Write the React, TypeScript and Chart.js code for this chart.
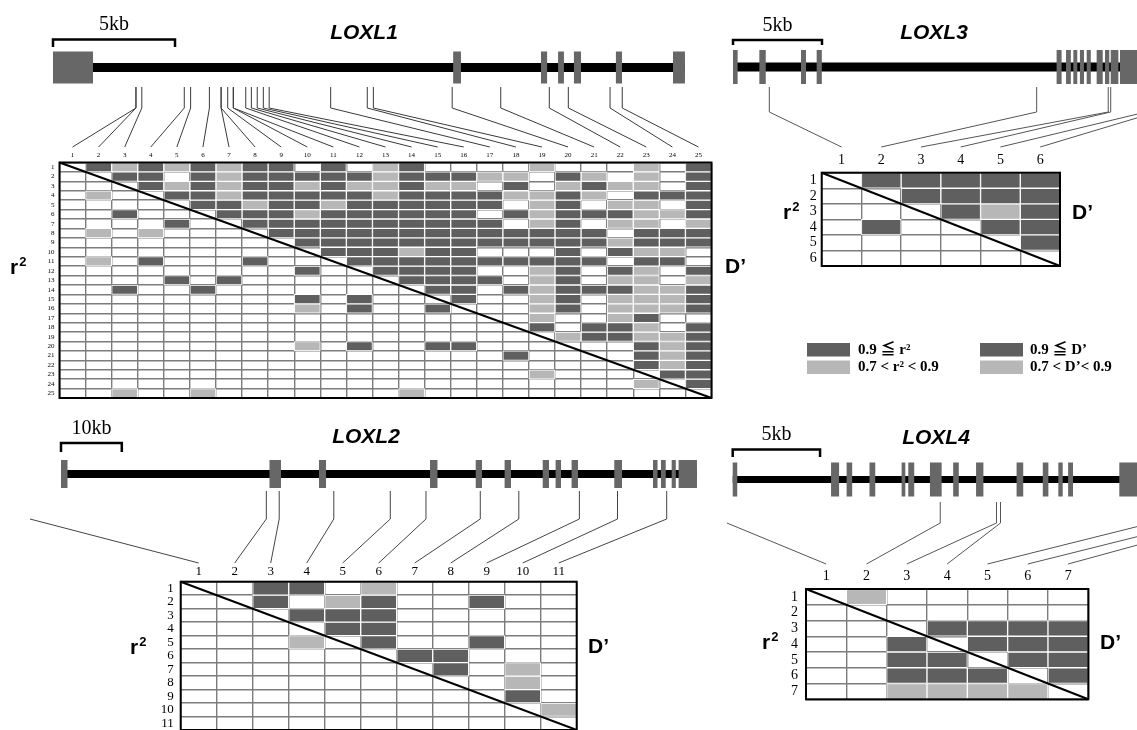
import React, { useEffect, useRef } from 'react';
import { Chart, registerables } from 'chart.js';

Chart.register(...registerables);

const W = 1137;
const H = 730;

// ---------------- DATA ----------------
// LD matrices: '.' = below 0.7, 'L' = 0.7-0.9, 'D' = >= 0.9
// upper triangle = D', lower triangle = r²

const LOXL1_SNPS = ['1', '2', '3', '4', '5', '6', '7', '8', '9', '10', '11', '12', '13', '14', '15', '16', '17', '18', '19', '20', '21', '22', '23', '24', '25'];
const LOXL1_LD = [
  '.DLDLDLDD.D.LD....L...L.D',
  '..DD.DLDDDDDLDDDLL.DL.L.D',
  '...DLDLDDLDLLDLL.D.LDLL.D',
  '.L..DDLDDDDDLDDDDLLDL.DDD',
  '.....DDLDDLDDDDDD.LD.LL.D',
  '..D...DDDLDDDDDD.DLDDDLLD',
  '....D..DDDDDDDDDD.LD.LL.L',
  '.L.L....DDDDDDDDDDDDD.DDD',
  '.........DDDDDDDDDDDDLDDD',
  '..........DDDLDD...D.DLL.',
  '.L.D...D...DDDDDDDDDD.DD.',
  '.........D..DDDD..LD.DL.D',
  '....D.D......DDDD.LD.LL.L',
  '..D..D........DD.DLDDDLLD',
  '.........D.D...D..LD.LLLD',
  '.........L.D..D...LD.LLLD',
  '..................L..LD..',
  '..................D.DDL.D',
  '...................LDDLLD',
  '.........L.D..DD......DLD',
  '.................D....DLD',
  '......................DLD',
  '..................L....DD',
  '......................L.D',
  '..L..L.......L...........',
];
const LOXL1_EXON_START = [0, 16.4, 20.0, 20.7, 21.35, 23.07, 25.41];
const LOXL1_EXON_END = [1.64, 16.72, 20.25, 20.94, 21.64, 23.32, 25.9];
const LOXL1_SNP_KB = [3.4, 3.4, 3.64, 5.38, 5.64, 6.41, 6.89, 6.89, 7.16, 7.39, 7.39, 7.9, 8.13, 8.37, 8.62, 8.86, 11.38, 12.88, 13.13, 16.36, 18.35, 20.34, 21.12, 22.83, 23.33];

const LOXL3_SNPS = ['1', '2', '3', '4', '5', '6'];
const LOXL3_LD = [
  '.DDDDD',
  '..DDDD',
  '...DLD',
  '.D..DD',
  '.....D',
  '......',
];
const LOXL3_EXON_START = [0, 1.48, 3.82, 4.7, 18.18, 18.71, 19.12, 19.49, 19.87, 20.43, 20.9, 21.22, 21.74];
const LOXL3_EXON_END = [0.26, 1.84, 4.1, 4.99, 18.46, 18.98, 19.34, 19.72, 20.1, 20.77, 21.14, 21.65, 23.5];
const LOXL3_SNP_KB = [2.04, 17.06, 21.08, 21.22, 23.2, 23.8];

const LOXL2_SNPS = ['1', '2', '3', '4', '5', '6', '7', '8', '9', '10', '11'];
const LOXL2_LD = [
  '..DD.L.....',
  '..D.LD..D..',
  '...DDD.....',
  '....DD.....',
  '...L.D..D..',
  '......DD...',
  '.......D.L.',
  '.........L.',
  '.........D.',
  '..........L',
  '...........',
];
const LOXL2_EXON_START = [0, 34.29, 42.43, 60.69, 68.21, 72.96, 79.23, 81.35, 83.98, 91.0, 97.37, 98.68, 100.44, 101.58];
const LOXL2_EXON_END = [1.07, 36.18, 43.59, 61.92, 69.24, 74.01, 80.26, 82.24, 85.03, 92.27, 98.11, 99.46, 101.12, 104.6];
const LOXL2_SNP_KB = [-5.1, 33.77, 35.89, 44.87, 54.16, 60.03, 68.96, 75.3, 85.26, 91.53, 99.62];

const LOXL4_SNPS = ['1', '2', '3', '4', '5', '6', '7'];
const LOXL4_LD = [
  '.L.....',
  '.......',
  '...DDDD',
  '..D.DDD',
  '..DD.DD',
  '..DDD.D',
  '..LLLL.',
];
const LOXL4_EXON_START = [0, 5.63, 6.52, 7.83, 9.67, 10.05, 11.29, 12.62, 13.93, 16.25, 17.75, 18.64, 19.2, 22.13];
const LOXL4_EXON_END = [0.26, 6.09, 6.84, 8.16, 9.88, 10.39, 11.96, 12.94, 14.35, 16.63, 18.07, 18.89, 19.48, 23.5];
const LOXL4_SNP_KB = [-0.33, 11.88, 15.1, 15.33, 23.98, 26.29, 27.78];

const LEGEND_R2 = ['0.9 ≦ r²', '0.7 < r² < 0.9'];
const LEGEND_D = ['0.9 ≦ D’', '0.7 < D’< 0.9'];

// ---------------- STYLE / LAYOUT ----------------
const DARK = '#5f5f5f';
const LIGHT = '#b7b7b7';
const EXON = '#676767';
const GRID = '#7c7c7c';
const CELL_COLORS: Record<string, string> = { '.': 'rgba(0,0,0,0)', L: LIGHT, D: DARK };
const SERIF = '"Liberation Serif", "DejaVu Serif", "Noto Sans CJK JP", serif';
const SANS = '"Liberation Sans", Arial, sans-serif';

type Layout = {
  m: [number, number, number, number];
  x0: number; ppk: number;
  gy: number; lineH: number; exonH: number;
  vTop: number; bend: number; endY: number;
  title: [number, number];
  bar: [number, number, number];
  r2: [number, number]; dp: [number, number];
  font: number; xPad: number; yPad: number;
  conn: string;
};

type Panel = {
  name: string; snps: string[]; ld: string[];
  exonStart: number[]; exonEnd: number[]; geneLength: number;
  snpKb: number[]; scaleKb: number; scaleLabel: string;
  layout: Layout; legend?: boolean;
};

const PANELS: Panel[] = [
  {
    name: 'LOXL1', snps: LOXL1_SNPS, ld: LOXL1_LD,
    exonStart: LOXL1_EXON_START, exonEnd: LOXL1_EXON_END, geneLength: 25.9,
    snpKb: LOXL1_SNP_KB, scaleKb: 5, scaleLabel: '5kb',
    layout: {
      m: [59.5, 162.5, 711.5, 398], x0: 53, ppk: 24.4,
      gy: 67.5, lineH: 9, exonH: 32, vTop: 87, bend: 108, endY: 147,
      title: [364, 33], bar: [39.5, 47, 25], r2: [10, 268], dp: [725, 267],
      font: 7, xPad: 3, yPad: 5, conn: '#3a3a3a',
    },
  },
  {
    name: 'LOXL3', snps: LOXL3_SNPS, ld: LOXL3_LD,
    exonStart: LOXL3_EXON_START, exonEnd: LOXL3_EXON_END, geneLength: 25,
    snpKb: LOXL3_SNP_KB, scaleKb: 5, scaleLabel: '5kb',
    layout: {
      m: [821.7, 172.7, 1060, 266], x0: 733, ppk: 17.8,
      gy: 67, lineH: 9, exonH: 34, vTop: 87, bend: 112, endY: 147,
      title: [934, 33], bar: [40, 45, 26], r2: [783, 213], dp: [1072, 213],
      font: 14, xPad: 4, yPad: 5, conn: '#555555',
    },
    legend: true,
  },
  {
    name: 'LOXL2', snps: LOXL2_SNPS, ld: LOXL2_LD,
    exonStart: LOXL2_EXON_START, exonEnd: LOXL2_EXON_END, geneLength: 104.6,
    snpKb: LOXL2_SNP_KB, scaleKb: 10, scaleLabel: '10kb',
    layout: {
      m: [180.7, 581.7, 576.7, 730], x0: 61, ppk: 6.08,
      gy: 474, lineH: 8, exonH: 28, vTop: 491, bend: 519, endY: 563,
      title: [366, 437], bar: [443, 452, 429], r2: [130, 648], dp: [588, 647],
      font: 13, xPad: 2, yPad: 7, conn: '#444444',
    },
  },
  {
    name: 'LOXL4', snps: LOXL4_SNPS, ld: LOXL4_LD,
    exonStart: LOXL4_EXON_START, exonEnd: LOXL4_EXON_END, geneLength: 23.5,
    snpKb: LOXL4_SNP_KB, scaleKb: 5, scaleLabel: '5kb',
    layout: {
      m: [806, 589, 1088.3, 699.3], x0: 732.7, ppk: 17.47,
      gy: 479.5, lineH: 7, exonH: 34, vTop: 502, bend: 523, endY: 564,
      title: [936, 438], bar: [449.5, 457, 435], r2: [762, 643], dp: [1100, 643],
      font: 14, xPad: 4, yPad: 8, conn: '#555555',
    },
  },
];

const XH = 30;
const YW = 36;

function drawR2(ctx: CanvasRenderingContext2D, x: number, y: number) {
  ctx.font = `bold 21px ${SANS}`;
  ctx.textAlign = 'left';
  ctx.textBaseline = 'middle';
  ctx.fillStyle = '#000';
  ctx.fillText('r', x, y);
  const w = ctx.measureText('r').width;
  ctx.font = `bold 13px ${SANS}`;
  ctx.fillText('2', x + w + 1, y - 6);
}

function zeroPad(s: any) {
  s.paddingTop = 0;
  s.paddingBottom = 0;
  s.paddingLeft = 0;
  s.paddingRight = 0;
}

function makeChart(canvas: HTMLCanvasElement, p: Panel) {
  const L = p.layout;
  const [ml, mt, mr, mb] = L.m;
  const n = p.snps.length;

  const datasets = p.ld.map((row, r) => ({
    data: p.snps.map((_, c) => (row[c] === '.' ? null : [r, r + 1])),
    backgroundColor: p.snps.map((_, c) => CELL_COLORS[row[c]]),
    borderColor: '#ffffff',
    borderWidth: 1,
    borderSkipped: false,
    grouped: false,
    barPercentage: 1,
    categoryPercentage: 1,
    xAxisID: 'x',
    yAxisID: 'y',
  }));

  const panelPlugin = {
    id: 'panel_' + p.name,
    afterDraw(chart: any) {
      const ctx: CanvasRenderingContext2D = chart.ctx;
      const xs = chart.scales.x;
      const xg = chart.scales.xg;
      const { left, top, right, bottom } = chart.chartArea;
      const gx = (kb: number) => xg.getPixelForValue(kb);
      ctx.save();

      // matrix border + diagonal
      ctx.strokeStyle = '#000';
      ctx.lineWidth = 2;
      ctx.strokeRect(left, top, right - left, bottom - top);
      ctx.beginPath();
      ctx.moveTo(left, top);
      ctx.lineTo(right, bottom);
      ctx.stroke();

      // gene line and exons
      ctx.fillStyle = '#000';
      ctx.fillRect(gx(0), L.gy - L.lineH / 2, gx(p.geneLength) - gx(0), L.lineH);
      ctx.fillStyle = EXON;
      p.exonStart.forEach((s, i) => {
        const a = gx(s);
        const b = gx(p.exonEnd[i]);
        ctx.fillRect(a, L.gy - L.exonH / 2, b - a, L.exonH);
      });

      // connectors from SNP positions to matrix columns
      ctx.strokeStyle = L.conn;
      ctx.lineWidth = 1;
      p.snpKb.forEach((kb, i) => {
        const sx = gx(kb);
        const ex = xs.getPixelForValue(i);
        ctx.beginPath();
        if (kb >= 0 && kb <= p.geneLength) {
          ctx.moveTo(sx, L.vTop);
          ctx.lineTo(sx, L.bend);
        } else {
          ctx.moveTo(sx, L.bend);
        }
        ctx.lineTo(ex, L.endY);
        ctx.stroke();
      });

      // scale bar
      const a = gx(0);
      const b = gx(p.scaleKb);
      ctx.strokeStyle = '#000';
      ctx.lineWidth = 2.5;
      ctx.beginPath();
      ctx.moveTo(a, L.bar[1]);
      ctx.lineTo(a, L.bar[0]);
      ctx.lineTo(b, L.bar[0]);
      ctx.lineTo(b, L.bar[1]);
      ctx.stroke();
      ctx.fillStyle = '#000';
      ctx.font = `20px ${SERIF}`;
      ctx.textAlign = 'center';
      ctx.textBaseline = 'middle';
      ctx.fillText(p.scaleLabel, (a + b) / 2, L.bar[2]);

      // title
      ctx.font = `italic bold 21px ${SANS}`;
      ctx.fillText(p.name, L.title[0], L.title[1]);

      // r² and D'
      drawR2(ctx, L.r2[0], L.r2[1]);
      ctx.font = `bold 21px ${SANS}`;
      ctx.textAlign = 'left';
      ctx.textBaseline = 'middle';
      ctx.fillText('D’', L.dp[0], L.dp[1]);

      // legend
      if (p.legend) {
        const cols: [string[], number, number][] = [[LEGEND_R2, 807, 858], [LEGEND_D, 980, 1030]];
        const colors = [DARK, LIGHT];
        const rowsY = [343, 360.5];
        cols.forEach(([labels, bx, tx]) => {
          labels.forEach((lab, k) => {
            ctx.fillStyle = colors[k];
            ctx.fillRect(bx, rowsY[k], 43, 13.5);
            ctx.fillStyle = '#000';
            ctx.font = `bold 15px ${SERIF}`;
            ctx.textAlign = 'left';
            ctx.textBaseline = 'middle';
            ctx.fillText(lab, tx, rowsY[k] + 7);
          });
        });
      }
      ctx.restore();
    },
  };

  const tickFont = { family: SERIF, size: L.font };

  return new Chart(canvas, {
    type: 'bar',
    data: { labels: p.snps, datasets: datasets as any },
    options: {
      responsive: false,
      animation: false,
      events: [],
      layout: { padding: { left: ml - YW, top: mt - XH, right: W - mr, bottom: H - mb } },
      plugins: { legend: { display: false }, tooltip: { enabled: false }, title: { display: false } },
      scales: {
        x: {
          type: 'category',
          position: 'top',
          offset: true,
          grid: { offset: true, color: GRID, lineWidth: 1.4, drawTicks: false },
          border: { display: false },
          ticks: { color: '#000', font: tickFont, padding: L.xPad, autoSkip: false, maxRotation: 0, minRotation: 0 },
          afterFit: (s: any) => { s.height = XH; zeroPad(s); },
          z: 1,
        },
        yl: {
          type: 'category',
          labels: p.snps,
          position: 'left',
          offset: true,
          grid: { offset: true, color: GRID, lineWidth: 1.4, drawTicks: false },
          border: { display: false },
          ticks: { color: '#000', font: tickFont, padding: L.yPad, autoSkip: false },
          afterFit: (s: any) => { s.width = YW; zeroPad(s); },
          z: 1,
        },
        y: { type: 'linear', min: 0, max: n, reverse: true, display: false, offset: false },
        xg: {
          type: 'linear', position: 'bottom', offset: false, display: false,
          min: (ml - L.x0) / L.ppk, max: (mr - L.x0) / L.ppk,
        },
      } as any,
    },
    plugins: [panelPlugin],
  });
}

export default function App() {
  const refs = useRef<(HTMLCanvasElement | null)[]>([]);
  useEffect(() => {
    const charts = PANELS.map((p, i) => makeChart(refs.current[i] as HTMLCanvasElement, p));
    return () => charts.forEach((c) => c.destroy());
  }, []);
  return (
    <div style={{ position: 'absolute', left: 0, top: 0, width: W, height: H, background: '#fff', overflow: 'hidden' }}>
      {PANELS.map((p, i) => (
        <canvas
          key={p.name}
          ref={(el) => { refs.current[i] = el; }}
          width={W}
          height={H}
          style={{ position: 'absolute', left: 0, top: 0, width: W, height: H }}
        />
      ))}
    </div>
  );
}
